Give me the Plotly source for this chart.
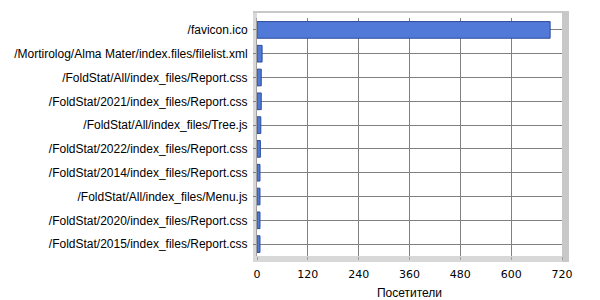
import plotly.graph_objects as go

categories = [
    "/favicon.ico",
    "/Mortirolog/Alma Mater/index.files/filelist.xml",
    "/FoldStat/All/index_files/Report.css",
    "/FoldStat/2021/index_files/Report.css",
    "/FoldStat/All/index_files/Tree.js",
    "/FoldStat/2022/index_files/Report.css",
    "/FoldStat/2014/index_files/Report.css",
    "/FoldStat/All/index_files/Menu.js",
    "/FoldStat/2020/index_files/Report.css",
    "/FoldStat/2015/index_files/Report.css",
]
visitors = [692, 12, 10, 10, 9, 8, 7, 7, 7, 7]
x_ticks = [0, 120, 240, 360, 480, 600, 720]
x_title = "Посетители"

W, H = 600, 300
L, R, T, B = 257, 38, 18, 44
PW, PH = W - L - R, H - T - B

fig = go.Figure()
fig.add_trace(go.Bar(
    y=categories, x=visitors, orientation="h",
    marker=dict(color="#5079D8", line=dict(color="#2E4B9B", width=1)),
    width=0.7,
))

# 3D-like frame: right wall, floor, left wall (light gray)
fig.add_shape(type="rect", xref="paper", yref="paper",
              x0=1.0, x1=1.0 + 7 / PW, y0=-6 / PH, y1=1.0 + 6 / PH,
              fillcolor="#C8C8C8", line=dict(width=0), layer="below")
fig.add_shape(type="rect", xref="paper", yref="paper",
              x0=-4 / PW, x1=1.0, y0=-6 / PH, y1=0,
              fillcolor="#D8D8D8", line=dict(width=0), layer="below")
fig.add_shape(type="rect", xref="paper", yref="paper",
              x0=-4 / PW, x1=0, y0=-6 / PH, y1=1.0 + 6 / PH,
              fillcolor="#D8D8D8", line=dict(width=0), layer="below")
fig.add_shape(type="line", xref="paper", yref="paper",
              x0=-4 / PW, x1=1.0 + 7 / PW, y0=1.0 + 6 / PH, y1=1.0 + 6 / PH,
              line=dict(color="#C8C8C8", width=2))

fig.update_layout(
    width=W, height=H,
    margin=dict(l=L, r=R, t=T, b=B),
    paper_bgcolor="white", plot_bgcolor="white",
    showlegend=False,
    font=dict(family="Liberation Sans, Arial, sans-serif", size=12, color="#000000"),
    bargap=0.3,
)
fig.update_xaxes(
    range=[0, 720], tickvals=x_ticks, ticktext=[str(v) for v in x_ticks],
    showgrid=True, gridcolor="#808080", gridwidth=1,
    ticks="outside", ticklen=3, tickcolor="#A0A0A0",
    ticklabelstandoff=5, automargin=False,
    title=dict(text=x_title, standoff=10, font=dict(size=12)),
    zeroline=False, showline=False,
    tickfont=dict(family="DejaVu Sans, sans-serif", size=11),
)
fig.update_yaxes(
    autorange="reversed", automargin=False,
    showgrid=True, gridcolor="#808080", gridwidth=1,
    ticks="outside", ticklen=3, tickcolor="#808080",
    ticklabelstandoff=3,
    showline=True, linecolor="#A0A0A0",
    tickfont=dict(size=12),
)

fig.write_html("out.html")
